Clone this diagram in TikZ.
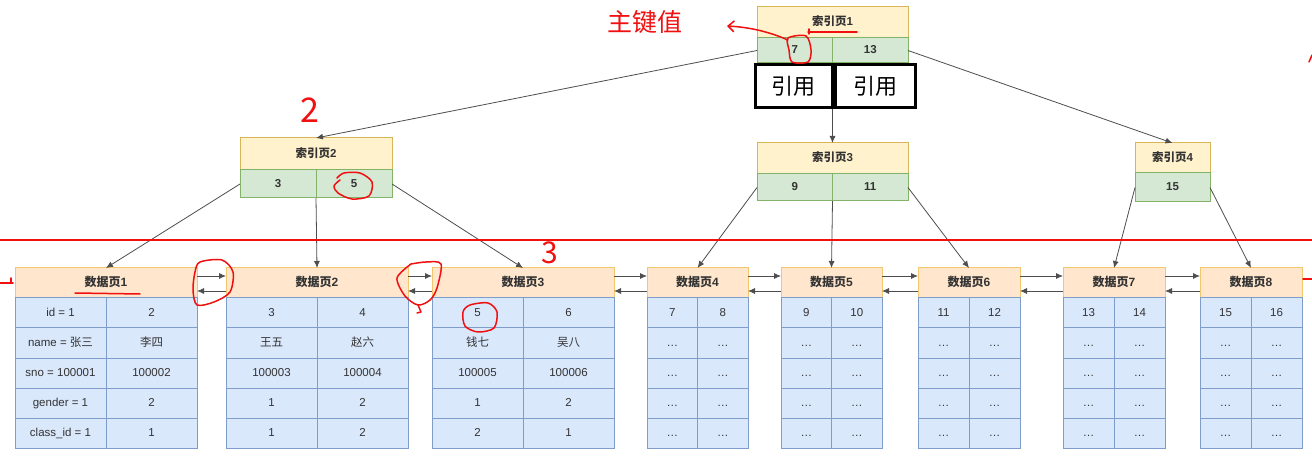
\documentclass[tikz,border=0pt]{standalone}
\usepackage{fontspec}
\setmainfont{Liberation Sans}
\newfontfamily\cjk{Noto Sans CJK SC}
\usetikzlibrary{arrows.meta,positioning,calc}
\definecolor{cyellow}{HTML}{fff2cc}
\definecolor{cyellowb}{HTML}{d6b656}
\definecolor{cgreen}{HTML}{d5e8d4}
\definecolor{cgreenb}{HTML}{82b366}
\definecolor{corange}{HTML}{ffe6cc}
\definecolor{corangeb}{HTML}{f2c76e}
\definecolor{cblue}{HTML}{dae8fc}
\definecolor{cblueb}{HTML}{7f9ccb}
\definecolor{ctext}{HTML}{333333}
\definecolor{cline}{HTML}{4d4d4d}
\definecolor{cpen}{HTML}{f01010}

\begin{document}
\begin{tikzpicture}[x=1pt,y=-1pt,>={Latex[length=7pt,width=6pt]},font=\fontsize{11.5}{13}\selectfont]
  \tikzstyle{ihead}=[draw=cyellowb,fill=cyellow,line width=1pt,outer sep=0pt,inner sep=0pt,text height=8.5pt,text depth=2pt,text=ctext,font=\fontsize{11.5}{13}\selectfont\bfseries]
  \tikzstyle{icell}=[draw=cgreenb,fill=cgreen,line width=1pt,outer sep=0pt,inner sep=0pt,text height=8.5pt,text depth=2pt,text=ctext,font=\fontsize{11.5}{13}\selectfont\bfseries]
  \tikzstyle{dhead}=[draw=corangeb,fill=corange,line width=1pt,outer sep=0pt,inner sep=0pt,minimum height=30,text height=8.5pt,text depth=2pt,text=ctext,font=\fontsize{12}{13}\selectfont\bfseries]
  \tikzstyle{dcell}=[draw=cblueb,fill=cblue,line width=1pt,outer sep=0pt,inner sep=0pt,minimum height=30,text height=8.5pt,text depth=2pt,text=ctext]
  \tikzstyle{link}=[->,draw=cline,line width=0.8pt]
  \tikzstyle{refbox}=[draw=black,line width=3pt,fill=white,minimum height=43,inner sep=0pt,font=\cjk\fontsize{22}{26}\selectfont]
  \tikzstyle{redpen}=[draw=cpen,line width=1.5pt,line cap=round,line join=round]

  \useasboundingbox (0,0) rectangle (1312,462);

  % index pages
  \node[ihead,minimum width=151,minimum height=31,anchor=north west] (i1) at (757,7) {{\cjk 索引页}1};
  \node[icell,minimum width=75.5,minimum height=25,anchor=north west] (i1a) at (i1.south west) {7};
  \node[icell,minimum width=75.5,minimum height=25,anchor=north west] (i1b) at (i1a.north east) {13};

  \node[ihead,minimum width=152,minimum height=32,anchor=north west] (i2) at (240,138) {{\cjk 索引页}2};
  \node[icell,minimum width=76,minimum height=28,anchor=north west] (i2a) at (i2.south west) {3};
  \node[icell,minimum width=76,minimum height=28,anchor=north west] (i2b) at (i2a.north east) {5};

  \node[ihead,minimum width=151,minimum height=31,anchor=north west] (i3) at (757,143) {{\cjk 索引页}3};
  \node[icell,minimum width=75.5,minimum height=27,anchor=north west] (i3a) at (i3.south west) {9};
  \node[icell,minimum width=75.5,minimum height=27,anchor=north west] (i3b) at (i3a.north east) {11};

  \node[ihead,minimum width=75,minimum height=30,anchor=north west] (i4) at (1135,143) {{\cjk 索引页}4};
  \node[icell,minimum width=75,minimum height=29,anchor=north west] (i4a) at (i4.south west) {15};

  % data pages
  \foreach \pg/\x/\w in {1/15/182,2/226/182,3/432/182,4/647/101,5/781/101,6/918/102,7/1063/102,8/1200/102}
    \node[dhead,minimum width=\w,anchor=north west] (d\pg) at (\x,268) {{\cjk 数据页}\pg};

  \foreach \pg/\w/\cells in {
      1/91/{id = 1,2,name = {\cjk 张三},{\cjk 李四},sno = 100001,100002,gender = 1,2,class\_id = 1,1},
      2/91/{3,4,{\cjk 王五},{\cjk 赵六},100003,100004,1,2,1,2},
      3/91/{5,6,{\cjk 钱七},{\cjk 吴八},100005,100006,1,2,2,1},
      4/50.5/{7,8,\ldots,\ldots,\ldots,\ldots,\ldots,\ldots,\ldots,\ldots},
      5/50.5/{9,10,\ldots,\ldots,\ldots,\ldots,\ldots,\ldots,\ldots,\ldots},
      6/51/{11,12,\ldots,\ldots,\ldots,\ldots,\ldots,\ldots,\ldots,\ldots},
      7/51/{13,14,\ldots,\ldots,\ldots,\ldots,\ldots,\ldots,\ldots,\ldots},
      8/51/{15,16,\ldots,\ldots,\ldots,\ldots,\ldots,\ldots,\ldots,\ldots}}
    \foreach \t [count=\i from 0] in \cells {
      \pgfmathtruncatemacro\ri{\i/2}
      \pgfmathtruncatemacro\ci{mod(\i,2)}
      \node[dcell,minimum width=\w,anchor=north west] (d\pg-\ri-\ci) at ($(d\pg.south west)+(\ci*\w,\ri*30)$) {\t};
    }

  % leaf list
  \foreach \a/\b in {1/2,2/3,3/4,4/5,5/6,6/7,7/8} {
    \draw[link] ([yshift=7]d\a.east) -- ([yshift=7]d\b.west);
    \draw[link] ([yshift=-8]d\b.west) -- ([yshift=-8]d\a.east);
  }

  % tree links
  \draw[link] (i1a.west) -- (i2.north);
  \draw[link] (i1a.south east) -- (i3.north);
  \draw[link] (i1b.east) -- (i4.north);
  \draw[link] (i2a.west) -- (d1.north);
  \draw[link] (i2a.south east) -- (d2.north);
  \draw[link] (i2b.east) -- (d3.north);
  \draw[link] (i3a.west) -- (d4.north);
  \draw[link] (i3a.south east) -- (d5.north);
  \draw[link] (i3b.east) -- (d6.north);
  \draw[link] (i4a.west) -- (d7.north);
  \draw[link] (i4a.east) -- (d8.north);

  % reference boxes
  \node[refbox,minimum width=77] (ref1) at (793.5,86.5) {引用};
  \node[refbox,minimum width=80] (ref2) at (875,86.5) {引用};

  % red notes
  \node[text=cpen,font=\cjk\fontsize{25}{28}\selectfont] (pk) at (645,22) {主键值};
  \node[text=cpen,font=\cjk\fontsize{34}{36}\selectfont] (n2) at (310,110) {2};
  \node[text=cpen,font=\cjk\fontsize{30}{32}\selectfont] (n3) at (550,253) {3};
  \draw[redpen] (0,240) -- (1312,240);
  \draw[redpen] (0,283) -- (13,283) (11,283) -- (11,278);
  \draw[redpen] (1303,279) -- (1312,279);
  \draw[redpen] (1309,62) -- (1312,55);
  \draw[redpen] plot[smooth cycle] coordinates {(788,38) (806,36) (811,50) (808,62) (792,62) (789,50)};
  \draw[redpen,-{Straight Barb[length=6pt,width=11pt]}] (788,40) .. controls (765,30) and (745,27) .. (727,26);
  \draw[redpen] (809,29) -- (809,34) (808,32) -- (857,32);
  \draw[redpen] plot[smooth] coordinates {(337,178) (344,173) (360,173) (372,182) (369,196) (352,199) (338,193) (334,186) (340,180)};
  \draw[redpen] (75,293) -- (140,294);
  \draw[redpen] plot[smooth cycle] coordinates {(200,262) (222,260) (233,272) (230,292) (214,302) (197,305) (193,290) (195,272)};
  \draw[redpen] plot[smooth] coordinates {(411,264) (426,262) (441,264) (437,288) (430,300) (418,305) (405,296) (397,278) (411,264)};
  \draw[redpen] (418,305) -- (421,312) -- (417,313);
  \draw[redpen] plot[smooth cycle] coordinates {(470,305) (488,303) (497,312) (494,328) (478,332) (465,326) (463,312)};
\end{tikzpicture}
\end{document}
